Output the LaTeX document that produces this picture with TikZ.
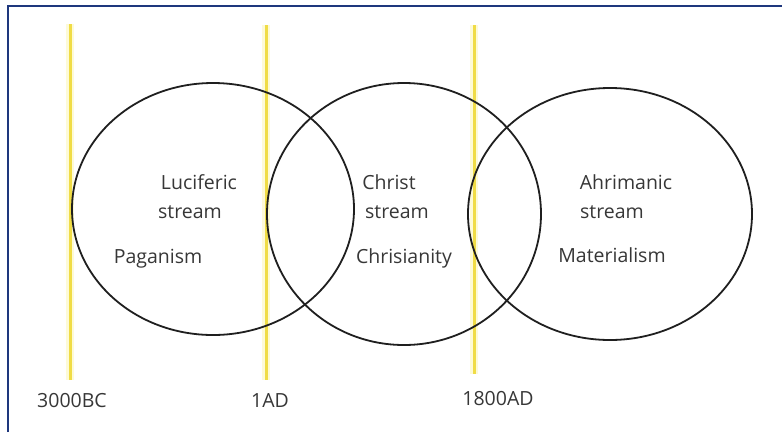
\documentclass[tikz,border=0pt]{standalone}
\usepackage{fontspec}
\setmainfont{Open Sans}
\usetikzlibrary{shapes.geometric}
\definecolor{navy}{RGB}{30,55,125}
\definecolor{gold}{RGB}{240,220,70}
\definecolor{haze}{RGB}{253,250,215}
\definecolor{txt}{RGB}{55,55,55}
\begin{document}
\begin{tikzpicture}[x=1pt,y=-1pt,
  erahaze/.style={draw=haze,line width=8pt},
  era/.style={draw=gold,line width=3pt},
  streamring/.style={draw=black!88,line width=1.8pt,ellipse,inner sep=0pt},
  lbl/.style={text=txt,font=\fontsize{19.5}{22}\selectfont,inner sep=0pt,text height=14pt,text depth=5pt}]
\useasboundingbox (0,0) rectangle (782,432);
\fill[white] (0,0) rectangle (782,432);
% frame
\coordinate (fa) at (8,432);
\coordinate (fb) at (8,6);
\coordinate (fc) at (782,6);
\draw[navy,line width=2pt] (fa) -- (fb) -- (fc);
% era lines
\coordinate (e1t) at (70,24);   \coordinate (e1b) at (70,380);
\coordinate (e2t) at (266,25);  \coordinate (e2b) at (266,380);
\coordinate (e3t) at (474,25);  \coordinate (e3b) at (474,374);
\draw[erahaze] (e1t) -- (e1b);
\draw[erahaze] (e2t) -- (e2b);
\draw[erahaze] (e3t) -- (e3b);
\draw[era] (e1t) -- (e1b);
\draw[era] (e2t) -- (e2b);
\draw[era] (e3t) -- (e3b);
% streams
\node[streamring,minimum width=282pt,minimum height=252pt] (c1) at (213,209) {};
\node[streamring,minimum width=274pt,minimum height=262pt] (c2) at (404,214) {};
\node[streamring,minimum width=284pt,minimum height=252pt] (c3) at (610,214) {};
% texts
\node[lbl] (luc) at (199,185) {Luciferic};
\node[lbl] (lucs) at (190,214) {stream};
\node[lbl] (pag) at (158,259) {Paganism};
\node[lbl] (chr) at (389,185) {Christ};
\node[lbl] (chrs) at (397,214) {stream};
\node[lbl] (chy) at (404,259) {Chrisianity};
\node[lbl] (ahr) at (626,185) {Ahrimanic};
\node[lbl] (ahrs) at (612,214) {stream};
\node[lbl] (mat) at (612,258) {Materialism};
\node[lbl] (y1) at (72,403) {3000BC};
\node[lbl] (y2) at (270,403) {1AD};
\node[lbl] (y3) at (498,401) {1800AD};
\end{tikzpicture}
\end{document}
